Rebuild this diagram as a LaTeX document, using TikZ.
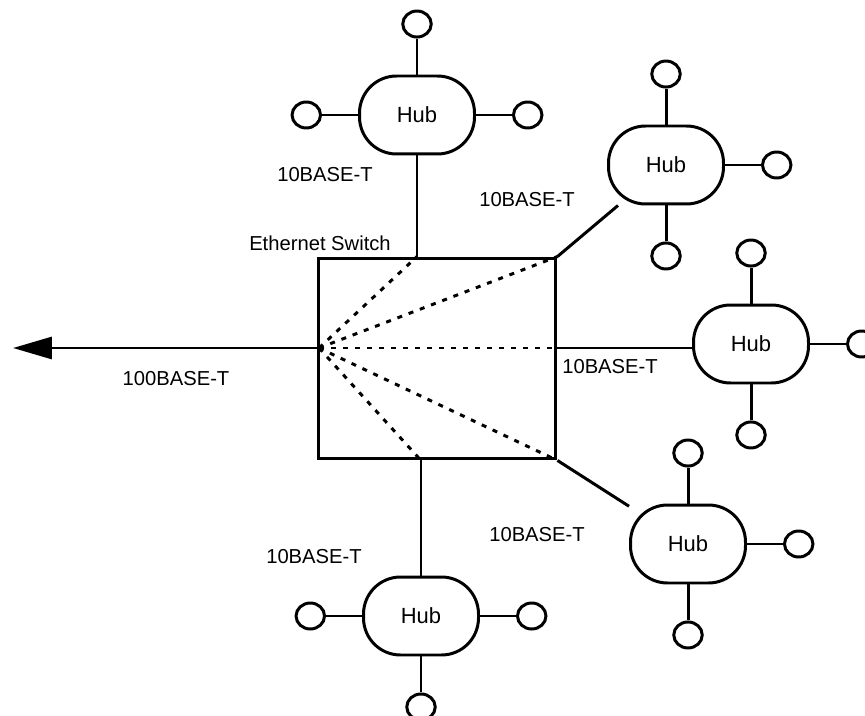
\documentclass[tikz,border=0pt]{standalone}
\usepackage{fontspec}
\setmainfont{Liberation Sans}
\usetikzlibrary{shapes.geometric, arrows.meta, positioning}

\begin{document}
\begin{tikzpicture}[x=0.02cm, y=-0.02cm, line width=1.7pt,
      font=\fontsize{11.5}{13}\selectfont,
      switchbox/.style={draw, rectangle, minimum width=4.76cm, minimum height=4.02cm, inner sep=0pt},
      hub/.style={draw, rectangle, rounded corners=0.74cm, minimum width=2.3cm,
                  minimum height=1.56cm, align=center, font=\fontsize{12.5}{14}\selectfont},
      port/.style={draw, ellipse, minimum width=0.57cm, minimum height=0.52cm, inner sep=0pt},
      fanline/.style={dash pattern=on 0.1cm off 0.14cm},
      uplink/.style={-{Triangle[length=0.78cm, width=0.44cm]}},
      lbl/.style={inner sep=1pt},
      node distance=0.72cm
    ]
    \useasboundingbox (0,0) rectangle (865,716);

    % Switch
    \node[switchbox] (sw) at (437,358.5) {};
    \node[lbl] (swname) at (320,243) {Ethernet Switch};

    % Hubs
    \node[hub] (hubN)  at (417,115) {Hub};
    \node[hub] (hubNE) at (666,165) {Hub};
    \node[hub] (hubE)  at (751,344) {Hub};
    \node[hub] (hubSE) at (688,544) {Hub};
    \node[hub] (hubS)  at (421,616) {Hub};

    % Stationen
    \node[port, left=of hubN]   (hubN-l)  {};
    \node[port, above=of hubN]  (hubN-t)  {};
    \node[port, right=of hubN]  (hubN-r)  {};
    \node[port, above=of hubNE] (hubNE-t) {};
    \node[port, right=of hubNE] (hubNE-r) {};
    \node[port, below=of hubNE] (hubNE-b) {};
    \node[port, above=of hubE]  (hubE-t)  {};
    \node[port, right=of hubE]  (hubE-r)  {};
    \node[port, below=of hubE]  (hubE-b)  {};
    \node[port, above=of hubSE] (hubSE-t) {};
    \node[port, right=of hubSE] (hubSE-r) {};
    \node[port, below=of hubSE] (hubSE-b) {};
    \node[port, left=of hubS]   (hubS-l)  {};
    \node[port, right=of hubS]  (hubS-r)  {};
    \node[port, below=of hubS]  (hubS-b)  {};

    \draw (hubN) -- (hubN-l);   \draw (hubN) -- (hubN-t);   \draw (hubN) -- (hubN-r);
    \draw (hubNE) -- (hubNE-t); \draw (hubNE) -- (hubNE-r); \draw (hubNE) -- (hubNE-b);
    \draw (hubE) -- (hubE-t);   \draw (hubE) -- (hubE-r);   \draw (hubE) -- (hubE-b);
    \draw (hubSE) -- (hubSE-t); \draw (hubSE) -- (hubSE-r); \draw (hubSE) -- (hubSE-b);
    \draw (hubS) -- (hubS-l);   \draw (hubS) -- (hubS-r);   \draw (hubS) -- (hubS-b);

    % Anschlusspunkte am Switch
    \coordinate (fan)  at (319,348);
    \coordinate (sw-n) at (hubN |- sw.north);
    \coordinate (sw-e) at (sw.east |- fan);
    \coordinate (sw-s) at (hubS |- sw.south);
    \coordinate (out)  at (13,348);

    % interne Verbindungen
    \draw[fanline] (fan) -- (sw-n);
    \draw[fanline] (fan) -- (sw.north east);
    \draw[fanline] (fan) -- (sw-e);
    \draw[fanline] (fan) -- (sw.south east);
    \draw[fanline] (fan) -- (sw-s);

    % Leitungen
    \draw[uplink] (fan) -- (out);
    \draw (hubN) -- (sw-n);
    \draw (sw.north east) -- (hubNE);
    \draw (sw-e) -- (hubE.west |- sw-e);
    \draw (sw.south east) -- (hubSE);
    \draw (sw-s) -- (hubS);

    % Beschriftungen
    \node[lbl] (lblN)  at (325,175) {10BASE-T};
    \node[lbl] (lblNE) at (527,200) {10BASE-T};
    \node[lbl] (lblE)  at (610,367) {10BASE-T};
    \node[lbl] (lblSE) at (537,535) {10BASE-T};
    \node[lbl] (lblS)  at (314,557) {10BASE-T};
    \node[lbl] (lblup) at (176,379) {100BASE-T};
  \end{tikzpicture}
\end{document}
